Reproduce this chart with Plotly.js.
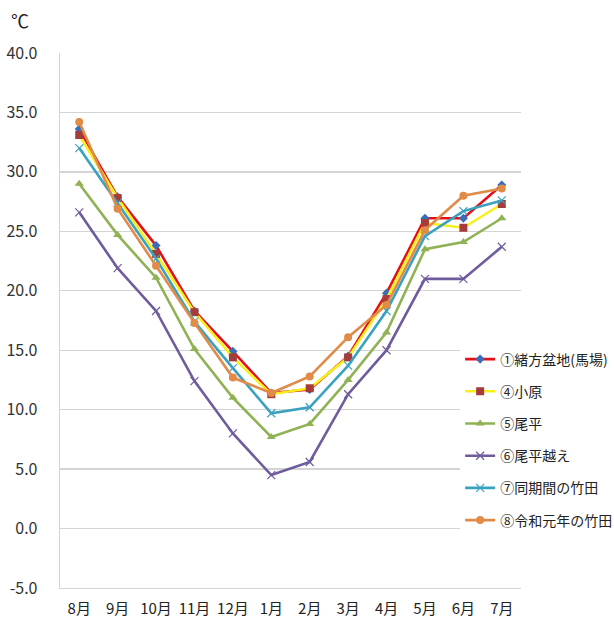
<!DOCTYPE html>
<html>
<head>
<meta charset="utf-8">
<script src="https://cdn.plot.ly/plotly-3.0.1.min.js"></script>
<style>
  html, body { margin: 0; padding: 0; background: #ffffff; }
  #chart { width: 614px; height: 624px; }
</style>
</head>
<body>
<div id="chart"></div>
<script>
// Monthly mean temperature (°C), August through July
const months = ['8月', '9月', '10月', '11月', '12月', '1月', '2月', '3月', '4月', '5月', '6月', '7月'];

const names = ['①緒方盆地(馬場)', '④小原', '⑤尾平', '⑥尾平越え', '⑦同期間の竹田', '⑧令和元年の竹田'];

const ogataBasin   = [33.6, 27.9, 23.8, 18.3, 14.9, 11.4, 11.7, 14.5, 19.8, 26.1, 26.1, 28.9];
const ohara        = [33.1, 27.8, 23.1, 18.2, 14.4, 11.3, 11.8, 14.4, 19.3, 25.7, 25.3, 27.3];
const obira        = [29.0, 24.7, 21.1, 15.1, 11.0,  7.7,  8.8, 12.5, 16.5, 23.5, 24.1, 26.1];
const obiraGoe     = [26.6, 21.9, 18.3, 12.4,  8.0,  4.5,  5.6, 11.3, 15.0, 21.0, 21.0, 23.7];
const taketaSame   = [32.0, 27.4, 22.7, 17.4, 13.5,  9.7, 10.2, 13.7, 18.3, 24.6, 26.7, 27.6];
const taketaReiwa1 = [34.2, 26.9, 22.1, 17.3, 12.7, 11.4, 12.8, 16.1, 18.8, 25.1, 28.0, 28.6];

const yTicks = [-5, 0, 5, 10, 15, 20, 25, 30, 35, 40];

const seriesValues = [ogataBasin, ohara, obira, obiraGoe, taketaSame, taketaReiwa1];
const lineColors   = ['#e3101a', '#f7ef1c', '#8fb254', '#6f5c9c', '#3aa2be', '#e08b48'];
const markerStyles = [
  { symbol: 'diamond', size: 7, color: '#3a6cb8' },
  { symbol: 'square', size: 8, color: '#a63c3a' },
  { symbol: 'triangle-up', size: 8, color: '#8fb254' },
  { symbol: 'x-thin-open', size: 8, color: '#6f5c9c', line: { color: '#6f5c9c', width: 1.2 } },
  { symbol: 'x-thin-open', size: 8, color: '#3aa2be', line: { color: '#3aa2be', width: 1.2 } },
  { symbol: 'circle', size: 8, color: '#e08b48' }
];

const FONT = '"Noto Sans CJK JP", "Noto Sans", sans-serif';

const traces = seriesValues.map((vals, i) => ({
  type: 'scatter',
  mode: 'lines+markers',
  name: names[i],
  legendgroup: 'g' + i,
  x: months,
  y: vals,
  line: { color: lineColors[i], width: 2.6 },
  marker: markerStyles[i],
  hoverinfo: 'x+y+name'
}));

const gridColor = '#d4d4d4';

const layout = {
  width: 614,
  height: 624,
  paper_bgcolor: '#ffffff',
  plot_bgcolor: '#ffffff',
  // fixed margins: the legend sits over the right part of the plot area
  margin: { l: 60, r: 93, t: 53, b: 36, autoexpand: false },
  font: { family: FONT, color: '#222222' },
  showlegend: true,
  legend: {
    x: 0.868,
    y: 0.457,
    xanchor: 'left',
    yanchor: 'top',
    bgcolor: '#ffffff',
    traceorder: 'grouped',
    tracegroupgap: 11,
    font: { family: FONT, size: 14, color: '#222222' }
  },
  xaxis: {
    type: 'category',
    categoryorder: 'array',
    categoryarray: months,
    range: [-0.5, 11.5],
    showgrid: false,
    showline: true,
    linecolor: gridColor,
    linewidth: 1.3,
    ticks: '',
    ticklabelstandoff: 7,
    tickfont: { family: FONT, size: 15, color: '#222222' },
    fixedrange: true
  },
  yaxis: {
    range: [-5, 40],
    tickvals: yTicks,
    ticktext: yTicks.map(v => v.toFixed(1)),
    showgrid: true,
    gridcolor: gridColor,
    gridwidth: 1.3,
    zeroline: false,
    showline: true,
    linecolor: gridColor,
    linewidth: 1.3,
    ticks: '',
    ticklabelstandoff: 18,
    tickfont: { family: FONT, size: 16, color: '#333333' },
    fixedrange: true
  },
  annotations: [{
    text: '℃',
    xref: 'paper', yref: 'paper',
    x: -0.11, y: 1.062,
    xanchor: 'left', yanchor: 'middle',
    showarrow: false,
    font: { family: FONT, size: 18, color: '#222222' }
  }]
};

Plotly.newPlot('chart', traces, layout, { displayModeBar: false, staticPlot: true });
</script>
</body>
</html>
